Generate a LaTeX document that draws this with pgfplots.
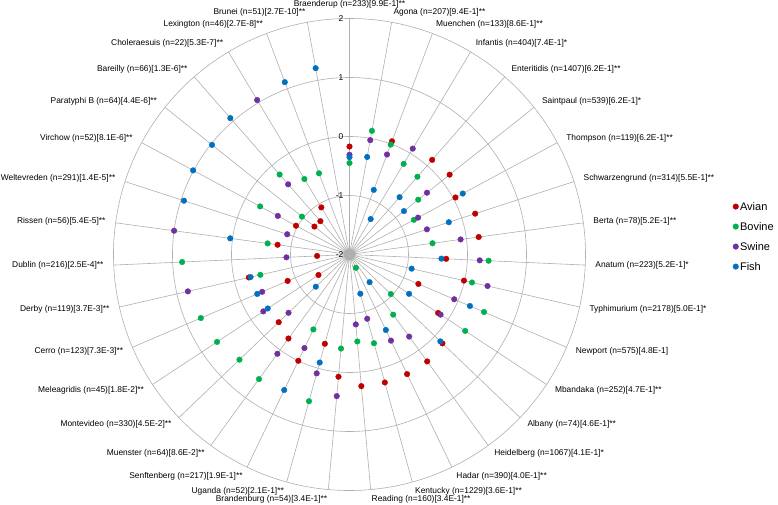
\documentclass[border=0pt]{standalone}
\usepackage{pgfplots}
\pgfplotsset{compat=1.18}
\usepackage{pgfplotstable}
\usepgfplotslibrary{polar}
\usepackage{fontspec}
\setmainfont{Liberation Sans}
\definecolor{avian}{RGB}{192,0,0}
\definecolor{bovine}{RGB}{0,176,80}
\definecolor{swine}{RGB}{112,48,160}
\definecolor{fish}{RGB}{0,112,192}
\definecolor{gridc}{RGB}{175,175,175}

% columns: i = category index (0 = Braenderup, clockwise), v = value
\pgfplotstableread{
i v
0 -0.17
2 0.05
4 0.13
5 0.17
6 0.04
7 0.24
8 0.21
9 -0.36
10 -0.01
11 -0.73
12 -0.20
13 0.18
14 0.24
15 0.25
16 0.25
17 0.24
18 0.08
19 -0.43
20 0.00
21 -0.24
22 -0.34
23 -1.37
24 -0.86
25 -0.25
26 -1.45
27 -0.77
29 -0.97
30 -1.24
31 -1.25
32 -1.07
}\avian
\pgfplotstableread{
i v
0 -0.45
1 0.13
2 -0.01
3 -0.21
4 -0.25
5 -0.51
6 -0.76
8 -0.58
9 0.36
10 0.13
11 0.48
12 0.35
13 -1.03
14 -0.74
15 -1.75
16 -0.44
17 -0.52
18 -0.40
19 0.58
20 -0.59
21 0.61
22 0.58
23 0.69
24 0.74
25 -0.45
26 0.84
27 -0.60
29 -0.28
30 -0.97
31 -0.20
32 -0.51
33 -0.53
}\bovine
\pgfplotstableread{
i v
0 -0.31
1 -0.03
2 -0.19
3 0.09
5 -0.32
6 -0.68
7 -0.62
8 -0.10
9 0.21
10 0.40
11 -0.07
12 -0.15
14 -0.28
15 -0.38
16 -0.87
17 -0.81
18 0.41
19 0.09
20 -0.24
21 0.08
22 -0.57
23 -0.25
24 -0.39
25 0.81
26 -0.93
27 1.00
28 -0.89
29 -0.62
31 -0.42
32 1.05
}\swine
\pgfplotstableread{
i v
0 -0.35
1 -0.32
2 -0.83
3 -1.30
4 -0.71
5 -0.82
6 0.18
7 -0.23
9 -0.44
10 -0.92
11 0.22
12 -0.79
13 0.13
14 -1.42
15 -0.58
16 -1.31
19 -0.10
20 0.55
22 -1.21
23 -0.34
24 -0.30
25 -0.28
27 0.04
28 0.95
29 1.01
30 0.98
31 1.07
33 1.12
34 1.21
}\fish

\begin{document}
\begin{tikzpicture}[
  lab/.style={font=\fontsize{8.4bp}{10bp}\selectfont, inner sep=0pt},
  rlab/.style={font=\fontsize{8.4bp}{10bp}\selectfont, inner sep=0pt, anchor=east, xshift=-6bp},
]
\begin{polaraxis}[
  scale only axis, width=472bp, height=472bp,
  xmin=0, xmax=360, ymin=0, ymax=4,
  xtick={90,79.714,69.429,59.143,48.857,38.571,28.286,18,7.714,357.429,347.143,336.857,326.571,316.286,306,295.714,285.429,275.143,264.857,254.571,244.286,234,223.714,213.429,203.143,192.857,182.571,172.286,162,151.714,141.429,131.143,120.857,110.571,100.286},
  ytick={1,2,3},
  xticklabels={}, yticklabels={},
  grid=major,
  major grid style={draw=gridc, line width=0.6bp},
  x axis line style={draw=gridc, line width=0.6bp},
  y axis line style={draw=none},
  tick style={draw=none},
  clip=false,
  legend style={at={(axis description cs:1.312,0.538)}, anchor=west, draw=none, fill=none,
    font=\fontsize{11bp}{13bp}\selectfont, row sep=8.5bp, inner sep=0pt,
    nodes={inner sep=1.5bp, text height=8bp, text depth=0.5bp}},
  legend cell align=left,
  legend image code/.code={\draw[#1] plot coordinates {(0bp,0bp)};},
]
\addplot[only marks, mark=*, mark size=2.8bp, color=avian] table[x expr={450-\thisrow{i}*360/35}, y expr={\thisrow{v}+2}] {\avian};
\addplot[only marks, mark=*, mark size=2.8bp, color=bovine] table[x expr={450-\thisrow{i}*360/35}, y expr={\thisrow{v}+2}] {\bovine};
\addplot[only marks, mark=*, mark size=2.8bp, color=swine] table[x expr={450-\thisrow{i}*360/35}, y expr={\thisrow{v}+2}] {\swine};
\addplot[only marks, mark=*, mark size=2.8bp, color=fish] table[x expr={450-\thisrow{i}*360/35}, y expr={\thisrow{v}+2}] {\fish};
\legend{Avian,Bovine,Swine,Fish}

\coordinate (c) at (axis cs:0,0);

\node[rlab] at (axis cs:90,0) {-2};
\node[rlab] at (axis cs:90,1) {-1};
\node[rlab] at (axis cs:90,2) {0};
\node[rlab] at (axis cs:90,3) {1};
\node[rlab] at (axis cs:90,4) {2};

\node[lab,anchor=south] at (axis cs:{90-0*360/35},4.17) {Braenderup (n=233)[9.9E-1]**};
\node[lab,anchor=west] at (axis cs:{90-1*360/35},4.17) {Agona (n=207)[9.4E-1]**};
\node[lab,anchor=west] at (axis cs:{90-2*360/35},4.17) {Muenchen (n=133)[8.6E-1]**};
\node[lab,anchor=west] at (axis cs:{90-3*360/35},4.17) {Infantis (n=404)[7.4E-1]*};
\node[lab,anchor=west] at (axis cs:{90-4*360/35},4.17) {Enteritidis (n=1407)[6.2E-1]**};
\node[lab,anchor=west] at (axis cs:{90-5*360/35},4.17) {Saintpaul (n=539)[6.2E-1]*};
\node[lab,anchor=west] at (axis cs:{90-6*360/35},4.17) {Thompson (n=119)[6.2E-1]**};
\node[lab,anchor=west] at (axis cs:{90-7*360/35},4.17) {Schwarzengrund (n=314)[5.5E-1]**};
\node[lab,anchor=west] at (axis cs:{90-8*360/35},4.17) {Berta (n=78)[5.2E-1]**};
\node[lab,anchor=west] at (axis cs:{90-9*360/35},4.17) {Anatum (n=223)[5.2E-1]*};
\node[lab,anchor=west] at (axis cs:{90-10*360/35},4.17) {Typhimurium (n=2178)[5.0E-1]*};
\node[lab,anchor=west] at (axis cs:{90-11*360/35},4.17) {Newport (n=575)[4.8E-1]};
\node[lab,anchor=west] at (axis cs:{90-12*360/35},4.17) {Mbandaka (n=252)[4.7E-1]**};
\node[lab,anchor=west] at (axis cs:{90-13*360/35},4.17) {Albany (n=74)[4.6E-1]**};
\node[lab,anchor=west] at (axis cs:{90-14*360/35},4.17) {Heidelberg (n=1067)[4.1E-1]*};
\node[lab,anchor=west] at (axis cs:{90-15*360/35},4.17) {Hadar (n=390)[4.0E-1]**};
\node[lab,anchor=west] at (axis cs:{90-16*360/35},4.17) {Kentucky (n=1229)[3.6E-1]**};
\node[lab,anchor=west] at (axis cs:{90-17*360/35},4.17) {Reading (n=160)[3.4E-1]**};
\node[lab,anchor=east] at (axis cs:{90-18*360/35},4.17) {Brandenburg (n=54)[3.4E-1]**};
\node[lab,anchor=east] at (axis cs:{90-19*360/35},4.17) {Uganda (n=52)[2.1E-1]**};
\node[lab,anchor=east] at (axis cs:{90-20*360/35},4.17) {Senftenberg (n=217)[1.9E-1]**};
\node[lab,anchor=east] at (axis cs:{90-21*360/35},4.17) {Muenster (n=64)[8.6E-2]**};
\node[lab,anchor=east] at (axis cs:{90-22*360/35},4.17) {Montevideo (n=330)[4.5E-2]**};
\node[lab,anchor=east] at (axis cs:{90-23*360/35},4.17) {Meleagridis (n=45)[1.8E-2]**};
\node[lab,anchor=east] at (axis cs:{90-24*360/35},4.17) {Cerro (n=123)[7.3E-3]**};
\node[lab,anchor=east] at (axis cs:{90-25*360/35},4.17) {Derby (n=119)[3.7E-3]**};
\node[lab,anchor=east] at (axis cs:{90-26*360/35},4.17) {Dublin (n=216)[2.5E-4]**};
\node[lab,anchor=east] at (axis cs:{90-27*360/35},4.17) {Rissen (n=56)[5.4E-5]**};
\node[lab,anchor=east] at (axis cs:{90-28*360/35},4.17) {Weltevreden (n=291)[1.4E-5]**};
\node[lab,anchor=east] at (axis cs:{90-29*360/35},4.17) {Virchow (n=52)[8.1E-6]**};
\node[lab,anchor=east] at (axis cs:{90-30*360/35},4.17) {Paratyphi B (n=64)[4.4E-6]**};
\node[lab,anchor=east] at (axis cs:{90-31*360/35},4.17) {Bareilly (n=66)[1.3E-6]**};
\node[lab,anchor=east] at (axis cs:{90-32*360/35},4.17) {Choleraesuis (n=22)[5.3E-7]**};
\node[lab,anchor=east] at (axis cs:{90-33*360/35},4.17) {Lexington (n=46)[2.7E-8]**};
\node[lab,anchor=east] at (axis cs:{90-34*360/35},4.17) {Brunei (n=51)[2.7E-10]**};
\end{polaraxis}
\pgfresetboundingbox
\path (c) ++(-349.5bp,-250.5bp) rectangle ++(778bp,505bp);
\end{tikzpicture}
\end{document}
